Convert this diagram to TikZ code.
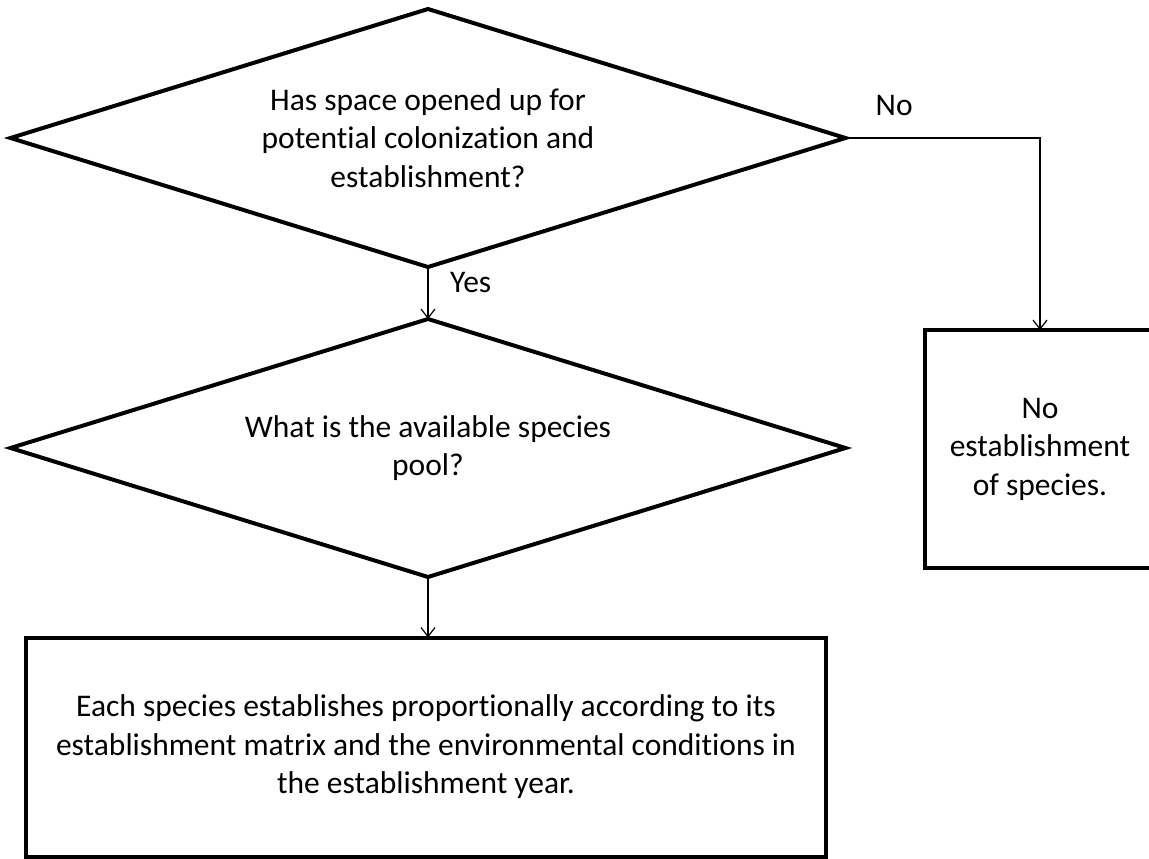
\documentclass[tikz,border=0pt]{standalone}
\usepackage{fontspec}
\setmainfont[Ligatures=NoCommon]{Carlito}
\usetikzlibrary{arrows.meta,positioning,shapes.geometric}

\begin{document}
\begin{tikzpicture}[x=1pt,y=-1pt,
		question/.style={diamond,draw,line width=4pt,aspect=3.24,inner sep=0pt,outer sep=0pt,
			minimum width=835pt,minimum height=258pt,align=center},
		outcome/.style={rectangle,draw,line width=4pt,inner sep=0pt,outer sep=0pt,align=center},
		flow/.style={-{Straight Barb[length=9pt,width=14pt]},line width=1.2pt},
		every node/.style={font=\fontsize{31.5}{38.5}\selectfont}]
			\useasboundingbox (0,0) rectangle (1149,859);
			\node[question] (q1) at (428,138) {Has space opened up for\\potential colonization and\\establishment?};
			\node[question] (q2) at (428,448) {What is the available species\\pool?};
			\node[outcome,minimum width=230pt,minimum height=238pt] (nobox) at (1040,449) {No\\establishment\\of species.};
			\node[outcome,minimum width=800pt,minimum height=219pt] (estbox) at (426,747)
				{Each species establishes proportionally according to its\\establishment matrix and the environmental conditions in\\the establishment year.};
			\draw[flow] (q1.east) -| (nobox.north);
			\draw[flow] (q1.south) -- (q2.north);
			\draw[flow] (q2.south) -- (q2.south |- estbox.north);
			\node[anchor=base west,inner sep=0pt] (nolab) at ([shift={(30,-23)}]q1.east) {No};
			\node[anchor=base west,inner sep=0pt] (yeslab) at ([shift={(22,25)}]q1.south) {Yes};
		\end{tikzpicture}
\end{document}
